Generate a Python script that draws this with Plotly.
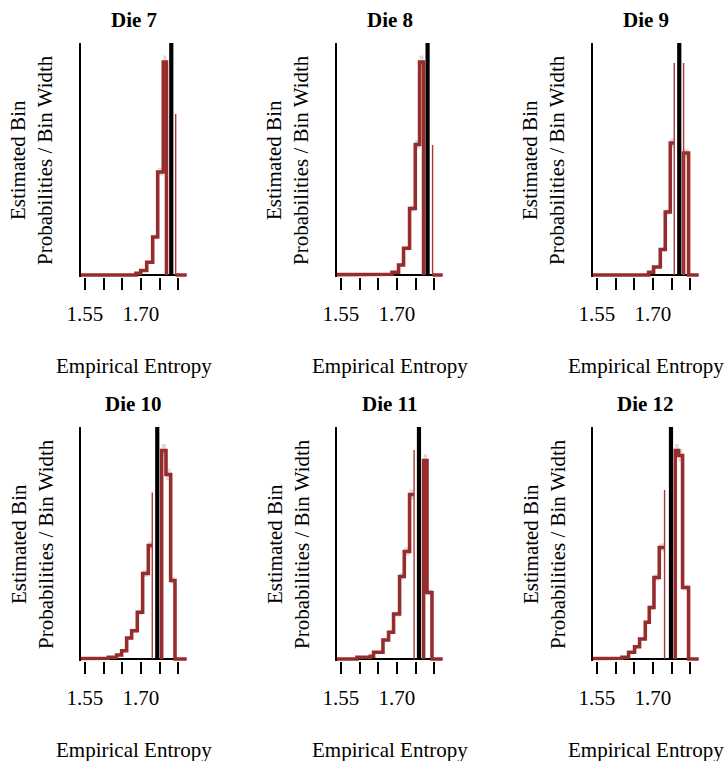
import plotly.graph_objects as go

# ---------------- data ----------------
DIES = ["Die 7", "Die 8", "Die 9", "Die 10", "Die 11", "Die 12"]
OBSERVED = [1.7814, 1.7822, 1.7706, 1.7438, 1.7591, 1.7484]

TICK_VALUES = [1.55, 1.60, 1.65, 1.70, 1.75, 1.80]
TICK_LABELS = ["1.55", "", "", "1.70", "", ""]

# bins to the left of the observed entropy
LEFT_BREAKS = [
    [1.6867, 1.6995, 1.7155, 1.7315, 1.7450, 1.7600, 1.7685],
    [1.6508, 1.6867, 1.7044, 1.7178, 1.7339, 1.7492, 1.7607, 1.7714],
    [1.6884, 1.7018, 1.7197, 1.7331, 1.7465, 1.7572],
    [1.5991, 1.6125, 1.6349, 1.6483, 1.6617, 1.6751, 1.6903, 1.7046, 1.7198, 1.7304],
    [1.5929, 1.6286, 1.6374, 1.6626, 1.6776, 1.6910, 1.7071, 1.7197, 1.7339, 1.7460],
    [1.6080, 1.6170, 1.6347, 1.6508, 1.6642, 1.6795, 1.6902, 1.7028, 1.7170, 1.7312],
]
LEFT_HEIGHTS = [
    [0.34, 0.9, 2.54, 7.6, 20.6, 42.6],
    [0.14, 0.54, 2.0, 5.34, 13.3, 26.1, 42.6],
    [0.54, 1.6, 5.1, 12.6, 26.4],
    [0.14, 0.34, 0.8, 1.66, 4.2, 5.66, 9.34, 17.1, 22.7],
    [0.34, 0.54, 1.34, 3.8, 5.34, 9.0, 16.5, 21.5, 32.9],
    [0.14, 0.34, 1.34, 2.46, 4.0, 7.34, 10.3, 16.3, 22.3],
]
LEFT_SPIKE = [None, None, 42.4, 33.3, 41.8, 33.8]

# bins to the right of the observed entropy
RIGHT_BREAKS = [
    [1.7932],
    [1.7956],
    [1.7822, 1.7956],
    [1.7556, 1.7672, 1.7797, 1.7913],
    [1.7715, 1.7806, 1.7940],
    [1.7599, 1.7688, 1.7795, 1.7956],
]
RIGHT_HEIGHTS = [
    [],
    [],
    [24.4],
    [41.7, 36.9, 15.7],
    [39.7, 13.3],
    [41.7, 40.7, 14.3],
]
RIGHT_SPIKE = [32.2, 26.0, 42.4, None, None, None]

# ---------------- style / layout ----------------
W, H = 725, 761
COL_LEFT = [81, 337, 593]
PLOT_W = 105.5
ROW_TOP = [43, 427]
PLOT_H = 234
X_RANGE = [1.5393, 1.8222]
Y_RANGE = [-0.4, 46.4]
X_EXT = [1.40, 1.95]
RED = "#972C2C"
SPIKE_RED = "#A53A3A"
GREY = "#DCDCDC"
FONT = "Liberation Serif"
FS = 21


def step_path(breaks, heights, start, end, close_right=True):
    xs, ys = [start, breaks[0]], [0, 0]
    for j, h in enumerate(heights):
        xs += [breaks[j], breaks[j + 1]]
        ys += [h, h]
    if close_right:
        xs += [breaks[-1], end]
        ys += [0, 0]
    return xs, ys


def band(breaks, heights, hi=1.025, lo=0.975):
    xs, ys = [], []
    for j, h in enumerate(heights):
        xs += [breaks[j], breaks[j + 1]]
        ys += [h * hi + 0.25, h * hi + 0.25]
    for j in reversed(range(len(heights))):
        h = heights[j]
        xs += [breaks[j + 1], breaks[j]]
        ys += [max(h * lo - 0.25, 0), max(h * lo - 0.25, 0)]
    return xs, ys


fig = go.Figure()
annotations = []
layout = {}

for i, name in enumerate(DIES):
    r, c = divmod(i, 3)
    sfx = "" if i == 0 else str(i + 1)
    xref, yref = "x" + sfx, "y" + sfx
    x0 = COL_LEFT[c] / W
    x1 = (COL_LEFT[c] + PLOT_W) / W
    y1 = 1 - ROW_TOP[r] / H
    y0 = 1 - (ROW_TOP[r] + PLOT_H) / H

    lb, lh = LEFT_BREAKS[i], LEFT_HEIGHTS[i]
    rb, rh = RIGHT_BREAKS[i], RIGHT_HEIGHTS[i]

    # grey uncertainty bands
    for bb, hh in ((lb, lh), (rb, rh)):
        if hh:
            bx, by = band(bb, hh)
            fig.add_trace(go.Scatter(x=bx, y=by, fill="toself", fillcolor=GREY,
                                     line=dict(width=0), mode="lines",
                                     xaxis=xref, yaxis=yref, hoverinfo="skip"))

    # black reference: zero baseline and observed entropy line
    obs = OBSERVED[i]
    fig.add_trace(go.Scatter(x=[X_EXT[0], obs, obs, obs, X_EXT[1]],
                             y=[0, 0, Y_RANGE[1] * 2, 0, 0],
                             mode="lines", line=dict(color="black", width=2),
                             xaxis=xref, yaxis=yref, hoverinfo="skip"))
    fig.add_trace(go.Scatter(x=[obs, obs], y=[0, Y_RANGE[1] * 2], mode="lines",
                             line=dict(color="black", width=4.2),
                             xaxis=xref, yaxis=yref, hoverinfo="skip"))

    # red estimated histogram, left part
    lx, ly = step_path(lb, lh, X_EXT[0], None, close_right=False)
    if LEFT_SPIKE[i] is None:
        lx += [lb[-1]]
        ly += [0]
    fig.add_trace(go.Scatter(x=lx, y=ly, mode="lines",
                             line=dict(color=RED, width=3.6, shape="linear"),
                             xaxis=xref, yaxis=yref, hoverinfo="skip"))
    if LEFT_SPIKE[i] is not None:
        fig.add_trace(go.Scatter(x=[lb[-1], lb[-1]], y=[0, LEFT_SPIKE[i]], mode="lines",
                                 line=dict(color=SPIKE_RED, width=1.4),
                                 xaxis=xref, yaxis=yref, hoverinfo="skip"))

    # red estimated histogram, right part
    rx, ry = step_path(rb, rh, rb[0], X_EXT[1])
    rx, ry = rx[1:], ry[1:]
    fig.add_trace(go.Scatter(x=rx, y=ry, mode="lines",
                             line=dict(color=RED, width=3.6),
                             xaxis=xref, yaxis=yref, hoverinfo="skip"))
    if RIGHT_SPIKE[i] is not None:
        fig.add_trace(go.Scatter(x=[rb[0], rb[0]], y=[0, RIGHT_SPIKE[i]], mode="lines",
                                 line=dict(color=SPIKE_RED, width=1.4),
                                 xaxis=xref, yaxis=yref, hoverinfo="skip"))

    layout["xaxis" + sfx] = dict(
        domain=[x0, x1], range=X_RANGE, anchor=yref, automargin=False,
        tickvals=TICK_VALUES, ticktext=TICK_LABELS,
        ticks="outside", ticklen=12, tickwidth=2, tickcolor="black",
        ticklabelstandoff=6,
        showline=False, showgrid=False, zeroline=False,
        tickfont=dict(family=FONT, size=FS, color="black"),
    )
    layout["yaxis" + sfx] = dict(
        domain=[y0, y1], range=Y_RANGE, anchor=xref, automargin=False,
        showticklabels=False, ticks="", showgrid=False, zeroline=False,
        showline=True, linecolor="black", linewidth=1.5,
    )

    cx = (COL_LEFT[c] + PLOT_W / 2) / W
    annotations.append(dict(text="<b>" + name + "</b>", x=cx, y=1 - (ROW_TOP[r] - 23) / H,
                            xref="paper", yref="paper", showarrow=False,
                            xanchor="center", yanchor="middle",
                            font=dict(family=FONT, size=FS, color="black")))
    annotations.append(dict(text="Empirical Entropy", x=cx,
                            y=1 - (ROW_TOP[r] + PLOT_H + 89) / H,
                            xref="paper", yref="paper", showarrow=False,
                            xanchor="center", yanchor="middle",
                            font=dict(family=FONT, size=FS, color="black")))
    annotations.append(dict(text="Estimated Bin<br>Probabilities / Bin Width",
                            x=(COL_LEFT[c] - 49) / W,
                            y=1 - (ROW_TOP[r] + PLOT_H / 2) / H,
                            xref="paper", yref="paper", showarrow=False,
                            textangle=-90, xanchor="center", yanchor="middle",
                            font=dict(family=FONT, size=FS, color="black")))

fig.update_layout(
    width=W, height=H, autosize=False, margin=dict(l=0, r=0, t=0, b=0, pad=0),
    paper_bgcolor="white", plot_bgcolor="white",
    showlegend=False, annotations=annotations, **layout,
)
fig.write_html("out.html")
